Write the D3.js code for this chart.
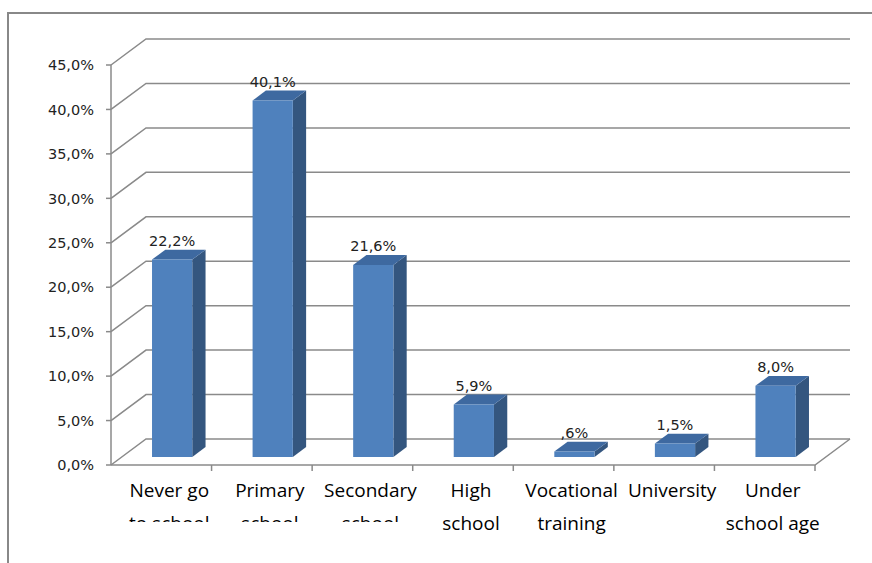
<!DOCTYPE html>
<html>
<head>
<meta charset="utf-8">
<script src="https://cdn.jsdelivr.net/npm/d3@7"></script>
<style>
  body { margin: 0; background: #fff; }
  svg { display: block; }
</style>
</head>
<body>
<div id="chart"></div>
<script>
// data
var categories = [
  ["Never go", "to school"],
  ["Primary", "school"],
  ["Secondary", "school"],
  ["High", "school"],
  ["Vocational", "training"],
  ["University"],
  ["Under", "school age"]
];
var values = [22.2, 40.1, 21.6, 5.9, 0.6, 1.5, 8.0];
var yTicks = [0, 5, 10, 15, 20, 25, 30, 35, 40, 45];

var width = 872, height = 563;
var DX = 35, DY = 26;           // depth of the 3D box
var barFront = 0.31, barBack = 0.69;

var locale = d3.formatLocale({decimal: ",", thousands: ".", grouping: [3], currency: ["", ""]});
var fmt = locale.format(".1f");
var tickFmt = d => fmt(d) + "%";
var labelFmt = d => fmt(d).replace(/^0,/, ",") + "%";

var svg = d3.select("#chart").append("svg")
    .attr("width", width)
    .attr("height", height);

// outer frame (cut at right and bottom)
svg.append("path")
  .attr("d", "M8," + height + "V13H" + width)
  .attr("fill", "none")
  .attr("stroke", "#888")
  .attr("stroke-width", 2);

var x = d3.scaleBand().domain(d3.range(categories.length)).range([111, 815]).padding(0);
var y = d3.scaleLinear().domain([0, 45]).range([465, 65]);

function P(px, v, depth) {
  return [px + depth * DX, y(v) - depth * DY];
}

var grid = svg.append("g")
    .attr("fill", "none")
    .attr("stroke", "#8a8a8a")
    .attr("stroke-width", 1.5);

// back wall gridlines + diagonals on the left side
yTicks.forEach(function(t) {
  var a = P(x.range()[0], t, 0), b = P(x.range()[0], t, 1), c = P(x.range()[1], t, 1);
  grid.append("path").attr("d", d3.line()([a, b, c]));
});

// front y axis
grid.append("line")
  .attr("x1", 111).attr("x2", 111)
  .attr("y1", y(0)).attr("y2", y(45));
yTicks.forEach(function(t) {
  grid.append("line")
    .attr("x1", 106).attr("x2", 111)
    .attr("y1", y(t)).attr("y2", y(t));
});

// floor front edge + right diagonal
grid.append("path")
  .attr("d", d3.line()([P(x.range()[0], 0, 0), P(x.range()[1], 0, 0), P(x.range()[1], 0, 1)]));
d3.range(categories.length + 1).forEach(function(i) {
  var px = x.range()[0] + i * x.bandwidth();
  if (i == 0) return;
  grid.append("line")
    .attr("x1", px).attr("x2", px)
    .attr("y1", y(0)).attr("y2", y(0) + 6);
});

// y tick labels
svg.append("g")
  .selectAll("text")
  .data(yTicks)
  .join("text")
  .attr("x", 94)
  .attr("y", d => y(d))
  .attr("dy", "0.36em")
  .attr("text-anchor", "end")
  .attr("font-family", "DejaVu Sans")
  .attr("font-size", 14.5)
  .attr("fill", "#222")
  .text(tickFmt);

// bars
var bw = x.bandwidth() * 0.4;
var bars = svg.append("g");
values.forEach(function(v, i) {
  var x0 = x(i) + x.bandwidth() * 0.3;
  var x1 = x0 + bw;
  var fl = P(x0, 0, barFront), fr = P(x1, 0, barFront);
  var tl = P(x0, v, barFront), tr = P(x1, v, barFront);
  var btl = P(x0, v, barBack), btr = P(x1, v, barBack), bbr = P(x1, 0, barBack);
  var g = bars.append("g");
  g.append("path").attr("d", d3.line()([fr, tr, btr, bbr]) + "Z").attr("fill", "#34567f");
  g.append("path").attr("d", d3.line()([tl, tr, btr, btl]) + "Z").attr("fill", "#3e69a0");
  g.append("path").attr("d", d3.line()([fl, tl, tr, fr]) + "Z").attr("fill", "#4f81bd");
  g.append("text")
    .attr("x", (tl[0] + tr[0]) / 2)
    .attr("y", btl[1] - 4)
    .attr("text-anchor", "middle")
    .attr("font-family", "DejaVu Sans")
    .attr("font-size", 14.5)
    .attr("fill", "#222")
    .text(labelFmt(v));
});

// category labels (the first three lose the bottom of their second line)
svg.append("clipPath").attr("id", "cut")
  .append("rect").attr("x", 0).attr("y", 0).attr("width", width).attr("height", 522);

var cats = svg.append("g")
  .selectAll("text")
  .data(categories)
  .join("text")
  .attr("clip-path", (d, i) => i < 3 ? "url(#cut)" : null)
  .attr("text-anchor", "middle")
  .attr("font-family", "Open Sans")
  .attr("font-size", 19)
  .attr("fill", "#000");
cats.each(function(lines, i) {
  var cx = x(i) + x.bandwidth() / 2 + 8;
  d3.select(this).selectAll("tspan")
    .data(lines)
    .join("tspan")
    .attr("x", cx)
    .attr("y", (d, j) => 497 + j * 33)
    .text(d => d);
});
</script>
</body>
</html>
